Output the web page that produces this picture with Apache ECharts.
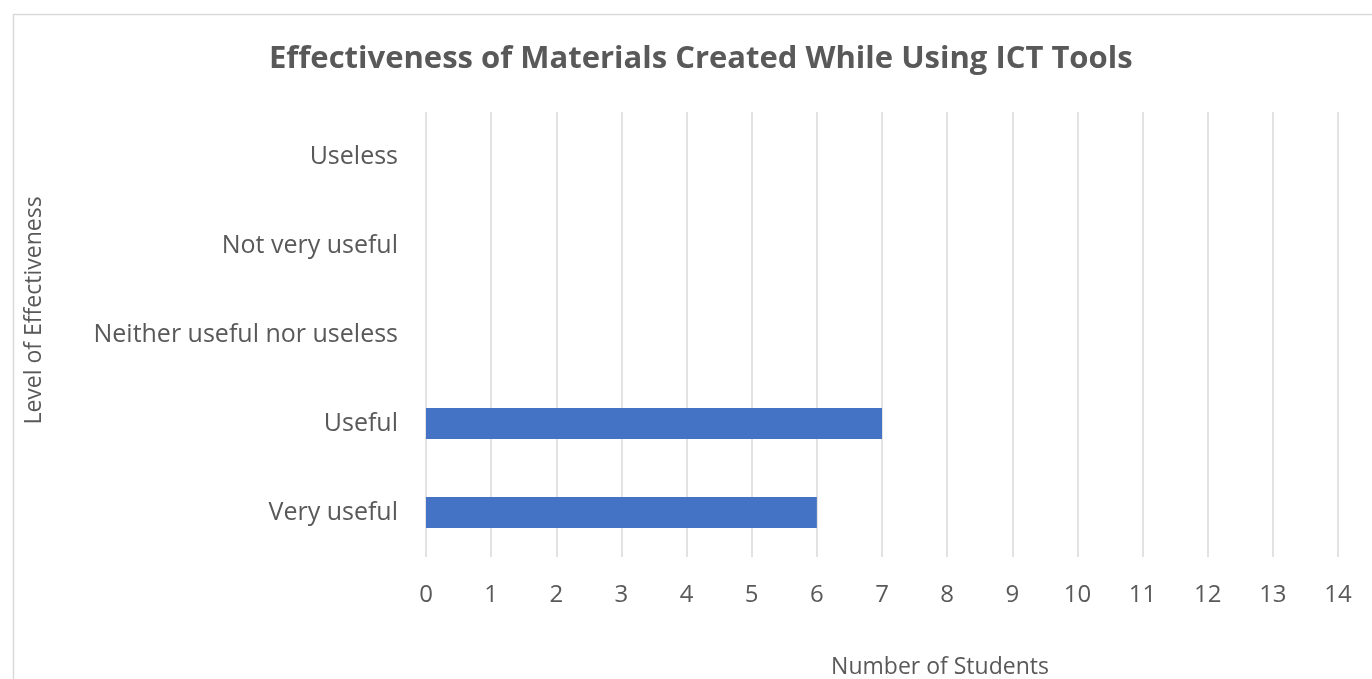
<!DOCTYPE html>
<html>
<head>
<meta charset="utf-8">
<script src="https://cdn.jsdelivr.net/npm/echarts@6/dist/echarts.min.js"></script>
<style>
  html, body { margin: 0; padding: 0; background: #fff; }
  #chart { width: 1372px; height: 679px; }
</style>
</head>
<body>
<div id="chart"></div>
<script>
// Survey responses, listed bottom to top on the category axis
const categories = ['Very useful', 'Useful', 'Neither useful nor useless', 'Not very useful', 'Useless'];
const students = [6, 7, 0, 0, 0];
const xTicks = { min: 0, max: 14, interval: 1 };

const textColor = '#595959';
const fontFamily = '"Open Sans", "Noto Sans", "Liberation Sans", sans-serif';

const chart = echarts.init(document.getElementById('chart'), null, { renderer: 'canvas' });
chart.setOption({
  backgroundColor: '#ffffff',
  animation: false,
  graphic: [{
    type: 'rect',
    left: 11, top: 12,
    shape: { width: 1500, height: 800 },
    style: { fill: 'none', stroke: '#d9d9d9', lineWidth: 1.5 },
    silent: true,
    z: -1
  }],
  title: {
    text: 'Effectiveness of Materials Created While Using ICT Tools',
    left: 264,
    top: 39,
    textStyle: { color: textColor, fontSize: 31, fontWeight: 'bold', fontFamily: fontFamily }
  },
  grid: {
    left: 426, top: 112, width: 912, height: 445,
    containLabel: false,
    outerBoundsMode: 'none'
  },
  xAxis: {
    type: 'value',
    min: xTicks.min, max: xTicks.max, interval: xTicks.interval,
    axisLine: { show: false },
    axisTick: { show: false },
    splitLine: { show: true, lineStyle: { color: '#d9d9d9', width: 1.5 } },
    axisLabel: { color: textColor, fontSize: 24, fontFamily: fontFamily, margin: 26 },
    name: 'Number of Students',
    nameLocation: 'middle',
    nameGap: 99,
    nameTextStyle: { color: textColor, fontSize: 23, fontFamily: fontFamily, padding: [0, 0, 0, 116] }
  },
  yAxis: {
    type: 'category',
    data: categories,
    axisLine: { show: false },
    axisTick: { show: false },
    axisLabel: { color: textColor, fontSize: 25, fontFamily: fontFamily, margin: 28 },
    name: 'Level of Effectiveness',
    nameLocation: 'middle',
    nameGap: 380,
    nameRotate: 90,
    nameTextStyle: { color: textColor, fontSize: 23, fontFamily: fontFamily, padding: [0, 0, 0, 48] }
  },
  series: [{
    type: 'bar',
    data: students,
    barWidth: 31,
    itemStyle: { color: '#4472C4' }
  }]
});
</script>
</body>
</html>
